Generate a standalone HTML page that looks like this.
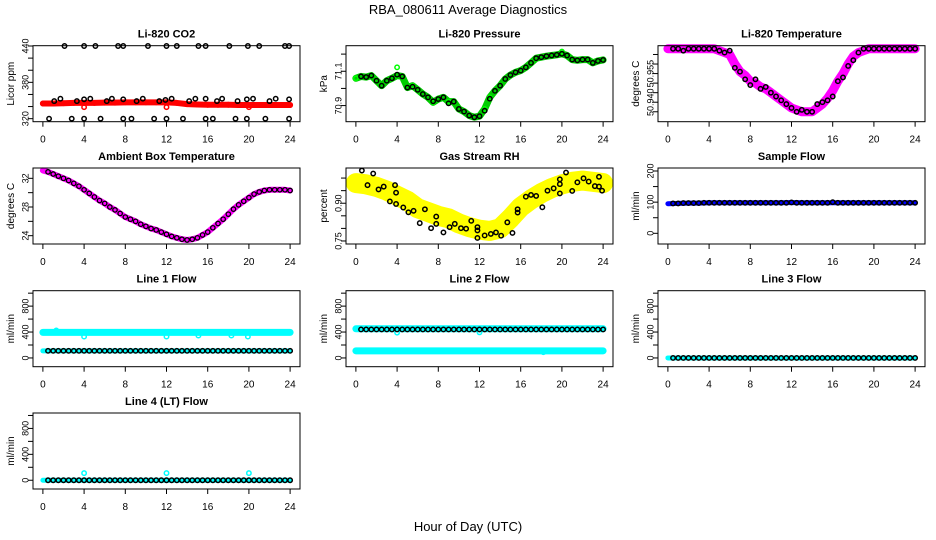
<!DOCTYPE html>
<html><head><meta charset="utf-8"><title>RBA_080611 Average Diagnostics</title>
<style>
html,body{margin:0;padding:0;background:#fff;}
svg{display:block;font-family:"Liberation Sans",sans-serif;}
</style></head>
<body>
<svg id="chart" width="936" height="540" viewBox="0 0 936 540" xmlns="http://www.w3.org/2000/svg">
<rect width="936" height="540" fill="#fff"/>
<text x="468" y="14" text-anchor="middle" font-size="13">RBA_080611  Average Diagnostics</text>
<text x="468" y="531" text-anchor="middle" font-size="13">Hour of Day (UTC)</text>
<g id="panels"></g>
</svg>
<script>
// ---------- data ----------
const xTicks = [0,4,8,12,16,20,24];

// Li-820 CO2
const co2Red = [345,345,345.5,346,346,346,346.5,346.5,347,347,347,347,347,346,344,343.5,343,343,343,342.5,342.5,342.5,342.5,342.5,342.5];
const co2RedOutHours = [4,12,20];
const co2RedOutValues = [339,339,339];
const co2BlackHours = [2.1,4,5.1,7.3,7.8,10.2,12,13,15.1,15.8,18.1,19.9,21,23.5,23.9,
  0.6,2.8,4,5.6,7.8,8.6,10.8,12,13.6,15.8,16.5,18.7,19.8,21.6,23.9,
  1.1,1.7,3.3,4,4.6,6.2,6.7,7.8,9.1,9.7,11.3,11.9,12.5,14.2,14.8,15.8,16.9,17.4,18.9,19.8,20.4,22,22.6,23.9];
const co2BlackValues = [440,440,440,440,440,440,440,440,440,440,440,440,440,440,440,
  320,320,320,320,320,320,320,320,320,320,320,320,320,320,320,
  349,353,349,352,353,349,353,352,349,353,349,351,353,349,353,353,349,353,349,352,353,349,353,352];

// Li-820 Pressure
const presGreen = [71.059,71.070,71.066,71.075,71.045,71.016,71.045,71.059,71.075,71.070,71.005,71.016,70.992,70.967,70.948,70.919,70.938,70.948,70.923,70.923,70.880,70.865,70.842,70.832,70.838,70.880,70.948,70.986,71.016,71.055,71.078,71.094,71.104,71.123,71.149,71.176,71.182,71.188,71.192,71.196,71.202,71.192,71.168,71.164,71.168,71.168,71.149,71.160,71.166];
const presBlack = [71.070,71.066,71.075,71.045,71.016,71.045,71.059,71.080,71.070,71.005,71.010,70.992,70.967,70.948,70.925,70.938,70.948,70.913,70.923,70.880,70.865,70.842,70.832,70.838,70.870,70.940,70.986,71.016,71.055,71.078,71.094,71.104,71.123,71.149,71.176,71.182,71.188,71.192,71.196,71.202,71.192,71.168,71.164,71.168,71.168,71.149,71.160,71.166];

// Li-820 Temperature
const tempMag = [50.968,50.968,50.968,50.968,50.968,50.968,50.968,50.968,50.968,50.968,50.967,50.966,
  50.965,50.960,50.956,50.954,50.951,50.950,50.948,50.947,50.945,50.943,50.941,50.939,50.937,50.936,50.935,50.935,50.935,50.937,50.939,50.942,50.946,50.951,50.955,50.960,50.964,50.966,50.967,
  50.968,50.968,50.968,50.968,50.968,50.968,50.968,50.968,50.968,50.968];
const tempBlack = [50.968,50.968,50.967,50.968,50.968,50.968,50.968,50.968,50.968,50.967,50.966,50.967,
  50.958,50.956,50.952,50.949,50.952,50.947,50.948,50.945,50.943,50.941,50.939,50.937,50.935,50.936,50.935,50.935,50.939,50.940,50.941,50.943,50.951,50.953,50.959,50.962,50.966,50.968,
  50.968,50.968,50.968,50.968,50.968,50.968,50.968,50.968,50.968,50.968];

// Ambient Box Temperature
const ambMag = [33.1,32.9,32.6,32.3,32.0,31.7,31.3,30.9,30.4,29.9,29.4,28.9,28.5,28.0,27.6,27.1,26.6,26.3,26.0,25.6,25.3,25.0,24.8,24.5,24.2,23.9,23.7,23.5,23.4,23.5,23.7,24.1,24.5,25.1,25.7,26.3,27.0,27.7,28.3,28.8,29.3,29.8,30.1,30.3,30.4,30.4,30.4,30.4,30.3];
const ambBlack = ambMag.slice(1);

// Gas Stream RH
const rhYellow = [0.98,0.975,0.965,0.95,0.93,0.91,0.88,0.865,0.85,0.84,0.82,0.805,0.795,0.79,0.80,0.84,0.885,0.915,0.94,0.96,0.975,0.985,0.99,0.985,0.98];
const rhBlackHours = [0.58,1.13,1.68,2.2,2.7,3.3,3.8,3.9,3.9,4.6,5.1,5.6,6.2,6.7,7.3,7.8,7.8,8.5,9.1,9.6,10.2,10.7,11.2,11.8,11.8,11.8,12.5,13.1,13.6,14.1,14.7,15.2,15.7,15.7,16.5,17,17.5,18.1,18.6,19.2,19.8,19.8,19.8,20.4,21,21.5,22.1,22.6,23.2,23.6,23.6,23.9];
const rhBlackValues = [1.03,0.972,1.018,0.955,0.966,0.907,0.972,0.942,0.897,0.883,0.864,0.87,0.821,0.876,0.801,0.847,0.818,0.784,0.805,0.818,0.801,0.799,0.83,0.805,0.792,0.762,0.772,0.778,0.784,0.771,0.824,0.782,0.876,0.863,0.926,0.933,0.929,0.884,0.95,0.959,0.995,0.976,0.939,1.022,0.949,0.983,0.999,0.986,0.968,1.005,0.966,0.95];

// Sample Flow
const sampleBlue = [95,96,97,97,98,98,98,98,98,98,98,98,99,98,98,98,98,98,98,98,98,98,98,98,98];
const sampleBlack = [96,96,97,97,97,97,98,98,98,98,98,98,98,98,98,98,98,98,98,98,98,98,98,99,98,98,98,98,98,98,98,100,98,98,98,98,98,98,98,98,98,98,98,98,98,98,98,98];

// Line 1 Flow
const l1CyanHigh = [395,395,395,395,395,395,395,395,395,395,395,395,395,395,395,395,395,395,395,395,395,395,395,395,395];
const l1CyanLow = [110,110,110,110,110,110,110,110,110,110,110,110,110,110,110,110,110,110,110,110,110,110,110,110,110];
const l1CyanOutHours = [4,12,15.1,18.3,19.9,1.3];
const l1CyanOutValues = [330,330,345,345,330,425];
const l1Black = [110,110,110,110,110,110,110,110,110,110,110,110,110,110,110,110,110,110,110,110,110,110,110,110,110,110,110,110,110,110,110,110,110,110,110,110,110,110,110,110,110,110,110,110,110,110,110,110];

// Line 2 Flow
const l2CyanHigh = [450,450,450,450,450,450,450,450,450,450,450,450,450,450,450,450,450,450,450,450,450,450,450,450,450];
const l2CyanLow = [110,110,110,110,110,110,110,110,110,110,110,110,110,110,110,110,110,110,110,110,110,110,110,110,110];
const l2CyanOutHours = [4,12,18.2];
const l2CyanOutValues = [390,395,90];
const l2Black = [440,440,440,440,440,440,440,440,440,440,440,440,440,440,440,440,440,440,440,440,440,440,440,440,440,440,440,440,440,440,440,440,440,440,440,440,440,440,440,440,440,440,440,440,440,440,440,440];

// Line 3 Flow
const l3Cyan = [0,0,0,0,0,0,0,0,0,0,0,0,0,0,0,0,0,0,0,0,0,0,0,0,0];
const l3Black = [0,0,0,0,0,0,0,0,0,0,0,0,0,0,0,0,0,0,0,0,0,0,0,0,0,0,0,0,0,0,0,0,0,0,0,0,0,0,0,0,0,0,0,0,0,0,0,0];

// Line 4 (LT) Flow
const l4Cyan = [0,0,0,0,0,0,0,0,0,0,0,0,0,0,0,0,0,0,0,0,0,0,0,0,0];
const l4CyanOutHours = [4,12,20];
const l4CyanOutValues = [110,110,110];
const l4Black = [0,0,0,0,0,0,0,0,0,0,0,0,0,0,0,0,0,0,0,0,0,0,0,0,0,0,0,0,0,0,0,0,0,0,0,0,0,0,0,0,0,0,0,0,0,0,0,0];

// ---------- drawing ----------
const NS = 'http://www.w3.org/2000/svg';
const root = document.getElementById('panels');
function mk(tag, parent){ const e = document.createElementNS(NS, tag); parent.appendChild(e); return e; }
function evenHours(n){ const h=[]; for(let i=0;i<n;i++) h.push(i*24/(n-1)); return h; }
function evenHoursFrom(n, start){ const h=[]; for(let i=0;i<n;i++) h.push(start + i*(24-start)/(n-1)); return h; }

const COLS = [33, 346, 658], ROWS = [45.7, 168, 290.7, 413], W = 267, H = 76;

function makePanel(name, title, col, row, ylim, yTicks, yLabels, ylab){
  const L = COLS[col], T = ROWS[row];
  const g = mk('g', root);
  
  
  const xs = h => L + (h + 0.96) / 25.92 * W;
  const ys = v => T + H - (v - ylim[0]) / (ylim[1] - ylim[0]) * H;
  const t = mk('text', g);
  
  
  t.setAttribute('x', L + W/2); t.setAttribute('y', T - 8);
  t.setAttribute('text-anchor', 'middle'); t.setAttribute('font-size', '11'); t.setAttribute('font-weight', 'bold');
  t.textContent = title;
  const data = mk('g', g);
  
  
  const b = mk('rect', g);
  
  
  b.setAttribute('x', L); b.setAttribute('y', T); b.setAttribute('width', W); b.setAttribute('height', H);
  b.setAttribute('fill', 'none'); b.setAttribute('stroke', '#000'); b.setAttribute('stroke-width', '1');
  const xa = mk('g', g);
  
  
  xTicks.forEach(v => {
    const tk = mk('line', xa);
    
    
    tk.setAttribute('x1', xs(v)); tk.setAttribute('x2', xs(v)); tk.setAttribute('y1', T+H); tk.setAttribute('y2', T+H+5);
    tk.setAttribute('stroke', '#000');
    const lb = mk('text', xa);
    
    
    lb.setAttribute('x', xs(v)); lb.setAttribute('y', T+H+21); lb.setAttribute('text-anchor', 'middle'); lb.setAttribute('font-size', '10');
    lb.textContent = String(v);
  });
  const ya = mk('g', g);
  
  
  yTicks.forEach(v => {
    const tk = mk('line', ya);
    
    
    tk.setAttribute('x1', L-5); tk.setAttribute('x2', L); tk.setAttribute('y1', ys(v)); tk.setAttribute('y2', ys(v));
    tk.setAttribute('stroke', '#000');
  });
  yLabels.forEach(s => {
    const v = parseFloat(s);
    const lb = mk('text', ya);
    
    
    lb.setAttribute('transform', 'translate(' + (L-4.5) + ',' + ys(v) + ') rotate(-90)');
    lb.setAttribute('text-anchor', 'middle'); lb.setAttribute('font-size', '9');
    lb.textContent = s;
  });
  const yl = mk('text', g);
  
  
  yl.setAttribute('transform', 'translate(' + (L-19) + ',' + (T+H/2) + ') rotate(-90)');
  yl.setAttribute('text-anchor', 'middle'); yl.setAttribute('font-size', '10');
  yl.textContent = ylab;
  return {data, xs, ys};
}

function band(p, hours, vals, color, width, name){
  const pl = mk('polyline', p.data);
  
  
  pl.setAttribute('points', vals.map((v,i) => p.xs(hours[i]) + ',' + p.ys(v)).join(' '));
  pl.setAttribute('fill', 'none'); pl.setAttribute('stroke', color); pl.setAttribute('stroke-width', width);
  pl.setAttribute('stroke-linejoin', 'round'); pl.setAttribute('stroke-linecap', 'round');
}
function points(p, hours, vals, color, name, sw){
  vals.forEach((v,i) => {
    const c = mk('circle', p.data);
    
    
    c.setAttribute('cx', p.xs(hours[i])); c.setAttribute('cy', p.ys(v)); c.setAttribute('r', 2.2);
    c.setAttribute('fill', 'none'); c.setAttribute('stroke', color); c.setAttribute('stroke-width', sw || 1.5);
  });
}
const range = (a,b,s) => { const r=[]; for(let v=a; v<=b+1e-9; v+=s) r.push(+v.toFixed(4)); return r; };
const flowTicks = range(0,1000,200), flowLabels = ['0','400','800'];
const flowLim = [-135, 1038];

let p = makePanel('panel-co2', 'Li-820 CO2', 0, 0, [315, 440.5], range(320,440,20), ['320','380','440'], 'Licor ppm');
band(p, evenHours(co2Red.length), co2Red, '#ff0000', 6, 'co2-red');
points(p, evenHours(co2Red.length), co2Red, '#ff0000', 'co2-red-point');
points(p, co2RedOutHours, co2RedOutValues, '#ff0000', 'co2-red-outlier');
points(p, co2BlackHours, co2BlackValues, '#000', 'co2-black-point');

p = makePanel('panel-pressure', 'Li-820 Pressure', 1, 0, [70.806, 71.249], range(70.9,71.2,0.1), ['70.9','71.1'], 'kPa');
band(p, evenHours(presGreen.length), presGreen, '#00cc00', 7, 'pressure-green');
points(p, evenHours(presGreen.length), presGreen, '#00ff00', 'pressure-green-point');
points(p, [4], [71.123], '#00ff00', 'pressure-green-outlier');
points(p, [20], [71.215], '#00ff00', 'pressure-green-outlier');
points(p, evenHoursFrom(presBlack.length, 0.5), presBlack, '#000', 'pressure-black-point');

p = makePanel('panel-li820-temperature', 'Li-820 Temperature', 2, 0, [50.9298, 50.9696], range(50.935,50.965,0.005), ['50.940','50.955'], 'degrees C');
band(p, evenHours(tempMag.length), tempMag, '#ff00ff', 9, 'temp-magenta');
points(p, evenHours(tempMag.length), tempMag, '#ff00ff', 'temp-magenta-point');
points(p, evenHoursFrom(tempBlack.length, 0.5), tempBlack, '#000', 'temp-black-point');

p = makePanel('panel-ambient-temperature', 'Ambient Box Temperature', 0, 1, [22.84, 33.44], range(24,32,2), ['24','28','32'], 'degrees C');
band(p, evenHours(ambMag.length), ambMag, '#ff00ff', 6, 'ambient-magenta');
points(p, evenHoursFrom(ambBlack.length, 0.5), ambBlack, '#000', 'ambient-black-point', 1.3);

p = makePanel('panel-gas-stream-rh', 'Gas Stream RH', 1, 1, [0.738, 1.04], range(0.75,1.0,0.05), ['0.75','0.90'], 'percent');
band(p, evenHours(rhYellow.length), rhYellow, '#ffff00', 20, 'rh-yellow');
points(p, rhBlackHours, rhBlackValues, '#000', 'rh-black-point');

p = makePanel('panel-sample-flow', 'Sample Flow', 2, 1, [-34.3, 209.6], range(0,200,50), ['0','100','200'], 'ml/min');
band(p, evenHours(sampleBlue.length), sampleBlue, '#0000ff', 5, 'sample-blue');
points(p, evenHoursFrom(sampleBlack.length, 0.5), sampleBlack, '#000', 'sample-black-point');

p = makePanel('panel-line1-flow', 'Line 1 Flow', 0, 2, flowLim, flowTicks, flowLabels, 'ml/min');
band(p, evenHours(l1CyanHigh.length), l1CyanHigh, '#00ffff', 7, 'line1-cyan-high');
band(p, evenHours(l1CyanLow.length), l1CyanLow, '#00ffff', 5, 'line1-cyan-low');
points(p, l1CyanOutHours, l1CyanOutValues, '#00ffff', 'line1-cyan-outlier');
points(p, evenHoursFrom(l1Black.length, 0.5), l1Black, '#000', 'line1-black-point');

p = makePanel('panel-line2-flow', 'Line 2 Flow', 1, 2, flowLim, flowTicks, flowLabels, 'ml/min');
band(p, evenHours(l2CyanHigh.length), l2CyanHigh, '#00ffff', 7, 'line2-cyan-high');
band(p, evenHours(l2CyanLow.length), l2CyanLow, '#00ffff', 7, 'line2-cyan-low');
points(p, l2CyanOutHours, l2CyanOutValues, '#00ffff', 'line2-cyan-outlier');
points(p, evenHoursFrom(l2Black.length, 0.5), l2Black, '#000', 'line2-black-point');

p = makePanel('panel-line3-flow', 'Line 3 Flow', 2, 2, flowLim, flowTicks, flowLabels, 'ml/min');
band(p, evenHours(l3Cyan.length), l3Cyan, '#00ffff', 5, 'line3-cyan');
points(p, evenHoursFrom(l3Black.length, 0.5), l3Black, '#000', 'line3-black-point');

p = makePanel('panel-line4-flow', 'Line 4 (LT) Flow', 0, 3, flowLim, flowTicks, flowLabels, 'ml/min');
band(p, evenHours(l4Cyan.length), l4Cyan, '#00ffff', 5, 'line4-cyan');
points(p, l4CyanOutHours, l4CyanOutValues, '#00ffff', 'line4-cyan-outlier');
points(p, evenHoursFrom(l4Black.length, 0.5), l4Black, '#000', 'line4-black-point');
</script>
</body></html>
